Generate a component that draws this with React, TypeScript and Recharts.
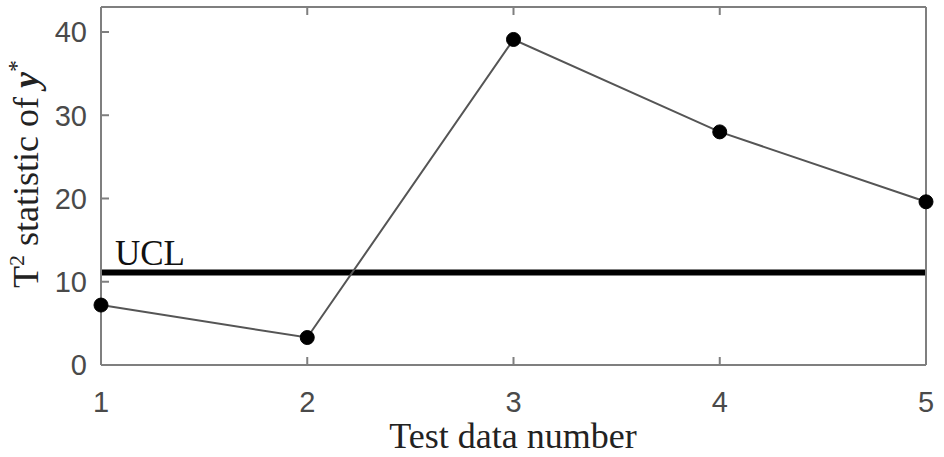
import React from 'react';
import { LineChart, Line, XAxis, YAxis, ReferenceLine } from 'recharts';

const testNumbers = [1, 2, 3, 4, 5];
const t2Values = [7.2, 3.3, 39.1, 28.0, 19.6];
const ucl = 11.1;
const yTicks = [0, 10, 20, 30, 40];

const data = testNumbers.map((n, i) => ({ n, t2: t2Values[i] }));

const frame = '#7f7f7f';
const tickText = '#4a4a4a';

const LeftTick = (props: any) => {
  const { x, y, payload } = props;
  return (
    <g>
      <line x1={x + 14} x2={x + 22} y1={y} y2={y} stroke={frame} strokeWidth={2} />
      <text x={x} y={y} dy="0.36em" textAnchor="end" fontFamily="Liberation Sans" fontSize={29} fill={tickText}>
        {payload.value}
      </text>
    </g>
  );
};

const RightTick = (props: any) => {
  const { x, y } = props;
  return <line x1={x} x2={x - 8} y1={y} y2={y} stroke={frame} strokeWidth={2} />;
};

const TopTick = (props: any) => {
  const { x, y } = props;
  return <line x1={x} x2={x} y1={y} y2={y + 8} stroke={frame} strokeWidth={2} />;
};

const BottomTick = (props: any) => {
  const { x, y, payload } = props;
  return (
    <g>
      <line x1={x} x2={x} y1={y} y2={y - 8} stroke={frame} strokeWidth={2} />
      <text x={x} y={y + 37} dy="0.36em" textAnchor="middle" fontFamily="Liberation Sans" fontSize={29} fill={tickText}>
        {payload.value}
      </text>
    </g>
  );
};

const YLabel = () => (
  <text transform="translate(38,174) rotate(-90)" textAnchor="middle" fontFamily="Liberation Serif" fontSize={36} fill="#222">
    T<tspan dy={-14} fontSize={22}>2</tspan>
    <tspan dy={14}> statistic of </tspan>
    <tspan fontWeight="bold" fontStyle="italic">y</tspan>
    <tspan dy={-14} fontSize={24}>*</tspan>
  </text>
);

const XLabel = () => (
  <text x={513} y={448} textAnchor="middle" fontFamily="Liberation Serif" fontSize={36} fill="#222">
    Test data number
  </text>
);

const UclLabel = (props: any) => {
  const { viewBox } = props;
  return (
    <text x={viewBox.x + 14} y={viewBox.y - 8} fontFamily="Liberation Serif" fontSize={35} fill="#111">
      UCL
    </text>
  );
};

export default function App() {
  return (
    <div style={{ position: 'absolute', left: 0, top: 0, background: '#fff' }}>
      <LineChart width={944} height={457} data={data} margin={{ top: 6, right: 17, bottom: 0, left: 0 }}>
        <XAxis
          dataKey="n"
          type="number"
          domain={[1, 5]}
          ticks={testNumbers}
          height={92}
          tickSize={0}
          tickMargin={0}
          tickLine={false}
          axisLine={{ stroke: frame, strokeWidth: 2 }}
          tick={<BottomTick />}
          label={<XLabel />}
        />
        <XAxis
          xAxisId="top"
          orientation="top"
          dataKey="n"
          type="number"
          domain={[1, 5]}
          ticks={testNumbers}
          height={1}
          tickSize={0}
          tickMargin={0}
          tickLine={false}
          axisLine={{ stroke: frame, strokeWidth: 2 }}
          tick={<TopTick />}
        />
        <YAxis
          domain={[0, 43]}
          ticks={yTicks}
          width={101}
          tickSize={0}
          tickMargin={14}
          tickLine={false}
          axisLine={{ stroke: frame, strokeWidth: 2 }}
          tick={<LeftTick />}
          label={<YLabel />}
        />
        <YAxis
          yAxisId="r"
          orientation="right"
          domain={[0, 43]}
          ticks={yTicks}
          width={1}
          tickSize={0}
          tickMargin={0}
          tickLine={false}
          axisLine={{ stroke: frame, strokeWidth: 2 }}
          tick={<RightTick />}
        />
        <ReferenceLine y={ucl} stroke="#000" strokeWidth={6} label={<UclLabel />} />
        <Line
          dataKey="t2"
          stroke="#555"
          strokeWidth={2}
          dot={{ r: 7, fill: '#000', stroke: '#000', strokeWidth: 1 }}
          isAnimationActive={false}
        />
      </LineChart>
    </div>
  );
}
